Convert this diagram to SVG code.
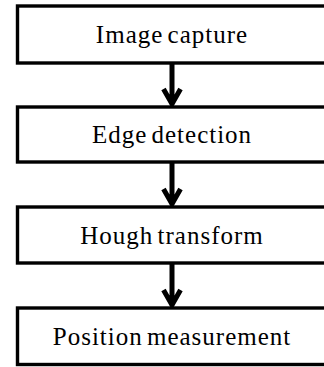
<svg xmlns="http://www.w3.org/2000/svg" width="324" height="367" viewBox="0 0 324 367">
<style>
.box{fill:#fff;stroke:#000;stroke-width:3.4}
.lbl{font-family:"Liberation Serif","Times New Roman",serif;font-size:25px;letter-spacing:1px;word-spacing:-3px;text-anchor:middle;fill:#000}
.arr{fill:none;stroke:#000;stroke-width:5;stroke-linecap:butt;stroke-linejoin:miter}
</style>
<rect width="324" height="367" fill="#fff"/>
<g id="connectors">
<path class="arr" d="M172,64 V105 M163.5,89 L172,104 L180.5,89"/>
<path class="arr" d="M172,163 V205 M163.5,189 L172,204 L180.5,189"/>
<path class="arr" d="M172,264 V306 M163.5,290 L172,305 L180.5,290"/>
</g>
<g id="n1"><rect class="box" x="17.5" y="6" width="320" height="57"/><text class="lbl" x="172" y="43">Image capture</text></g>
<g id="n2"><rect class="box" x="17.5" y="107" width="320" height="55"/><text class="lbl" x="172" y="143">Edge detection</text></g>
<g id="n3"><rect class="box" x="17.5" y="207" width="320" height="56"/><text class="lbl" x="172" y="244">Hough transform</text></g>
<g id="n4"><rect class="box" x="17.5" y="308" width="320" height="56.5"/><text class="lbl" x="172" y="345">Position measurement</text></g>
</svg>
